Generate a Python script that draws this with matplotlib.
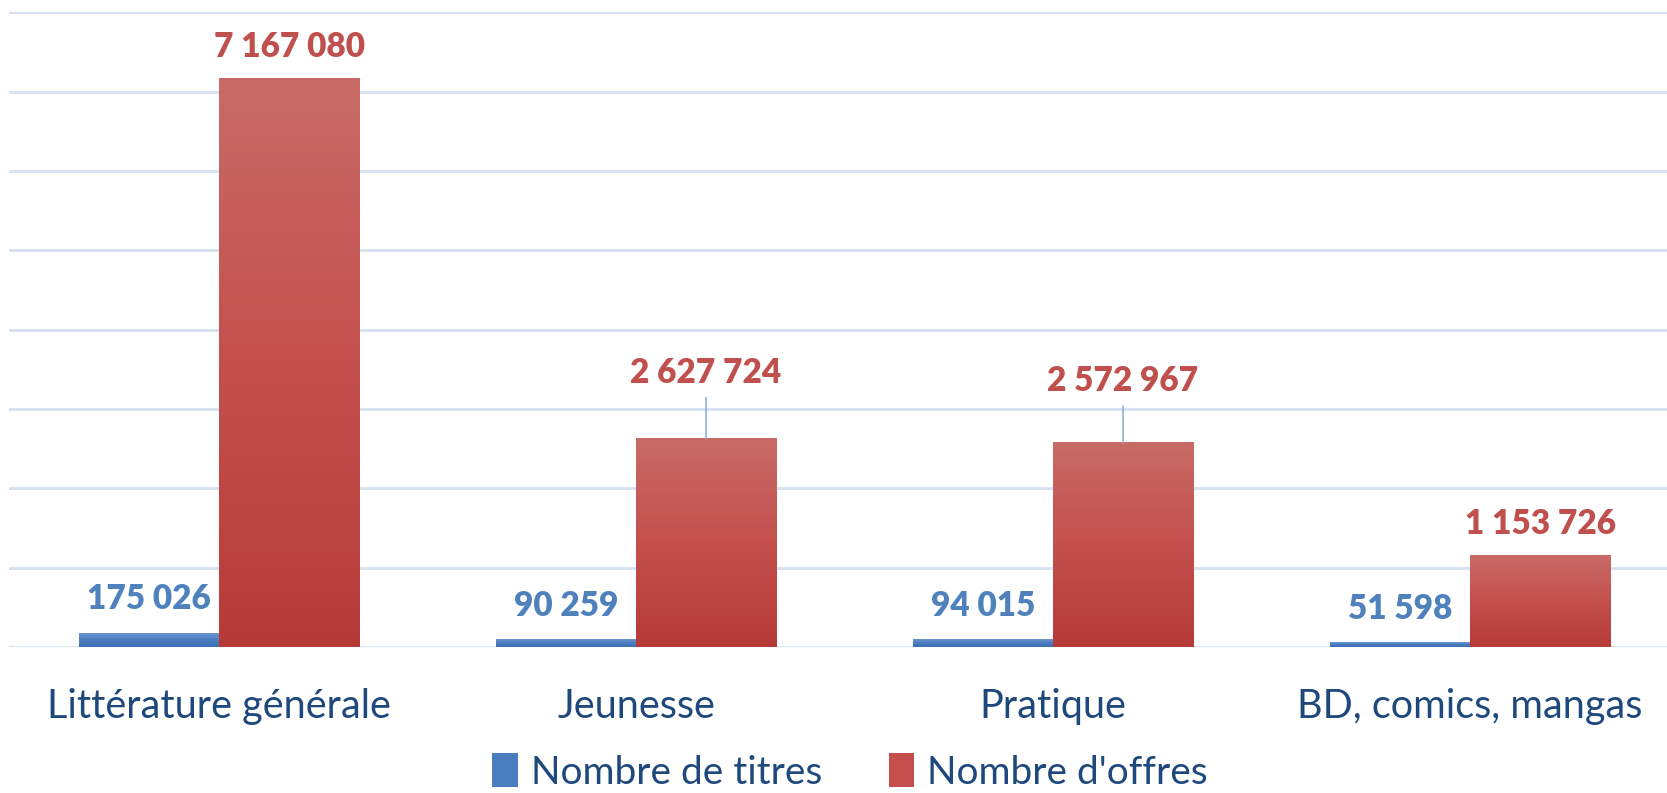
import numpy as np
import matplotlib.pyplot as plt
from matplotlib.colors import LinearSegmentedColormap
from matplotlib.patches import Patch

plt.rcParams['font.family'] = ['Lato', 'DejaVu Sans']

# Data
categories = ["Littérature générale", "Jeunesse", "Pratique", "BD, comics, mangas"]
titres = [175026, 90259, 94015, 51598]
offres = [7167080, 2627724, 2572967, 1153726]
titres_labels = ["175 026", "90 259", "94 015", "51 598"]
offres_labels = ["7 167 080", "2 627 724", "2 572 967", "1 153 726"]

W, H = 1667, 793
fig = plt.figure(figsize=(W / 100, H / 100), dpi=100)
ax = fig.add_axes([9 / W, 1 - 647 / H, 1 - 9 / W, (647 - 12.3) / H])

x = np.arange(len(categories))
bw = 0.336
bars_t = ax.bar(x - bw / 2, titres, bw, color="#4F81BD", zorder=2)
bars_o = ax.bar(x + bw / 2, offres, bw, color="#C0504D", zorder=2)

# vertical gradient fill (Excel style)
blue_cm = LinearSegmentedColormap.from_list("b", ["#3D6FB4", "#4A7CC0", "#6D96CE"])
red_cm = LinearSegmentedColormap.from_list("r", ["#B63B38", "#C4504D", "#C86B67"])
grad = np.linspace(0, 1, 256).reshape(-1, 1)
for bars, cm in [(bars_t, blue_cm), (bars_o, red_cm)]:
    for b in bars:
        x0, y0 = b.get_x(), b.get_y()
        ax.imshow(grad, extent=[x0, x0 + b.get_width(), y0, y0 + b.get_height()],
                  origin="lower", cmap=cm, aspect="auto", zorder=2.5)
        b.set_visible(False)

ax.set_xlim((9 - 219) / 417, (1667 - 219) / 417)
ax.set_ylim(0, 8000000)
ax.set_yticks(np.arange(0, 8000001, 1000000))
ax.yaxis.grid(True, color="#D6E1F0", linewidth=2, zorder=0)
ax.set_axisbelow(True)
for s in ax.spines.values():
    s.set_visible(False)
ax.tick_params(axis="y", left=False, labelleft=False)
ax.tick_params(axis="x", bottom=False, pad=26, labelsize=28.5, labelcolor="#1F497D")
ax.set_xticks(x)
ax.set_xticklabels(categories)

# data labels
for i in range(len(categories)):
    ax.annotate(titres_labels[i], (x[i] - bw / 2, titres[i]), xytext=(0, 24.5),
                textcoords="offset points", ha="center", va="center",
                fontsize=24, fontweight=800, color="#4F81BD", zorder=4)

red_raise = [22.5, 47.5, 44.5, 22.5]
for i in range(len(categories)):
    ax.annotate(offres_labels[i], (x[i] + bw / 2, offres[i]), xytext=(0, red_raise[i]),
                textcoords="offset points", ha="center", va="center",
                fontsize=24, fontweight=800, color="#C0504D", zorder=4)
    if red_raise[i] > 30:
        ax.annotate("", (x[i] + bw / 2, offres[i]), xytext=(0, red_raise[i] - 18),
                    textcoords="offset points",
                    arrowprops=dict(arrowstyle="-", color="#8EB0E0", lw=1.2,
                                    shrinkA=0, shrinkB=0))

# legend
handles = [Patch(facecolor="#4A7CC0", label="Nombre de titres"),
           Patch(facecolor="#C4504D", label="Nombre d'offres")]
leg = fig.legend(handles=handles, loc="center", bbox_to_anchor=(0.51, 1 - 772 / H),
                 ncol=2, frameon=False, fontsize=28, handlelength=0.65, handleheight=0.95,
                 handletextpad=0.35, columnspacing=1.7, borderpad=0.2)
for t in leg.get_texts():
    t.set_color("#1F497D")

fig.savefig("out.png", dpi=100)
